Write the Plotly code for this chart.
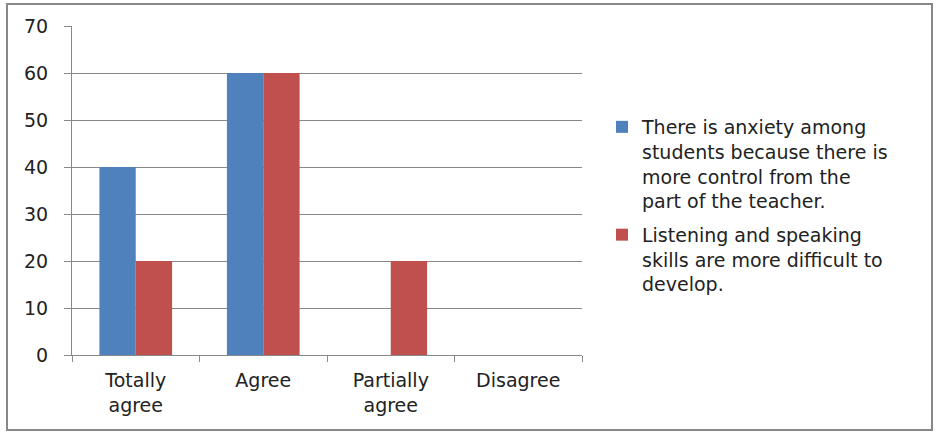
import plotly.graph_objects as go

categories = ["Totally<br>agree", "Agree", "Partially<br>agree", "Disagree"]
series1_name = "There is anxiety among<br>students because there is<br>more control from the<br>part of the teacher."
series2_name = "Listening and speaking<br>skills are more difficult to<br>develop."
series1_values = [40, 60, 0, 0]
series2_values = [20, 60, 20, 0]
y_ticks = [0, 10, 20, 30, 40, 50, 60, 70]

FONT = "DejaVu Sans"
FS = 19
fig = go.Figure()
fig.add_trace(go.Bar(x=categories, y=series1_values, name=series1_name,
                     legendgroup="g1",
                     marker=dict(color="#4F81BD", line=dict(width=0))))
fig.add_trace(go.Bar(x=categories, y=series2_values, name=series2_name,
                     legendgroup="g2",
                     marker=dict(color="#C0504D", line=dict(width=0))))

L, R, T, B = 72, 582, 26, 355
W, H = 946, 446
pw, ph = R - L, B - T

def px(x):
    return (x - L) / pw

def py(y):
    return (B - y) / ph

fig.update_layout(
    width=W, height=H,
    margin=dict(l=L, r=W - R, t=T, b=H - B, pad=0),
    paper_bgcolor="white", plot_bgcolor="white",
    barmode="group", bargap=0.43, bargroupgap=0,
    font=dict(family=FONT, size=FS, color="#222222"),
    xaxis=dict(showline=True, linecolor="#888888", linewidth=1,
               ticks="outside", ticklen=6, tickcolor="#888888",
               tickson="boundaries", showgrid=False, ticklabelstandoff=8,
               tickfont=dict(family=FONT, size=FS, color="#222222")),
    yaxis=dict(range=[0, 70], tickvals=y_ticks, showline=True, linecolor="#888888",
               linewidth=1, ticks="outside", ticklen=7, tickcolor="#888888",
               showgrid=True, gridcolor="#888888", gridwidth=1, zeroline=False,
               ticklabelstandoff=12,
               tickfont=dict(family=FONT, size=FS, color="#222222")),
    legend=dict(x=px(602), y=py(108), xanchor="left", yanchor="top",
                valign="top", tracegroupgap=6, itemwidth=30,
                traceorder="grouped",
                font=dict(family=FONT, size=FS, color="#222222"),
                bgcolor="rgba(0,0,0,0)"),
    shapes=[dict(type="rect", xref="paper", yref="paper",
                 x0=px(7), x1=px(932), y0=py(430), y1=py(4),
                 line=dict(color="#888888", width=2), fillcolor="rgba(0,0,0,0)",
                 layer="above")],
)

fig.write_html("out.html")
